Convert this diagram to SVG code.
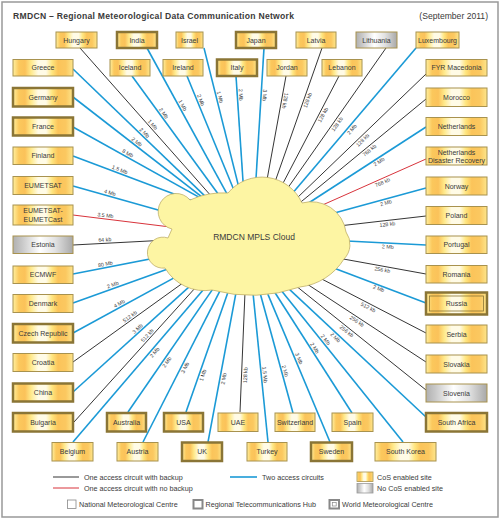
<svg xmlns="http://www.w3.org/2000/svg" width="500" height="519" viewBox="0 0 500 519">
<defs>
<linearGradient id="cos" x1="0" y1="0" x2="1" y2="0">
<stop offset="0" stop-color="#fff0a0"/><stop offset="0.1" stop-color="#fbc85c"/><stop offset="0.2" stop-color="#fbc25a"/><stop offset="0.3" stop-color="#ffe98a"/><stop offset="0.42" stop-color="#fffbe6"/><stop offset="0.55" stop-color="#fffbe6"/><stop offset="0.65" stop-color="#ffe680"/><stop offset="0.75" stop-color="#fbc45a"/><stop offset="0.88" stop-color="#fbc860"/><stop offset="1" stop-color="#fde68c"/>
</linearGradient>
<linearGradient id="nocos" x1="0" y1="0" x2="1" y2="0">
<stop offset="0" stop-color="#b0b0b0"/><stop offset="0.15" stop-color="#c8c8c8"/><stop offset="0.45" stop-color="#ffffff"/><stop offset="0.7" stop-color="#e2e2e2"/><stop offset="1" stop-color="#a8a8a8"/>
</linearGradient>
</defs>
<style>
.t{font-family:"Liberation Sans",Arial,sans-serif;fill:#3a3a3a}
.n{font-size:7px;text-anchor:middle}
.c{fill:url(#cos)}
.g{fill:url(#nocos)}
.nmc{stroke:#a8924e;stroke-width:1}
.rth{stroke:#8a7536;stroke-width:2.5}
.in{fill:none;stroke:#8a7536;stroke-width:0.8}
.bk{stroke:#1e1e1e;stroke-width:0.9;fill:none}
.rd{stroke:#d8333b;stroke-width:1;fill:none}
.bl{stroke:#1b9ad6;stroke-width:1.6;fill:none}
.lb{font-size:5.3px;text-anchor:middle}
.lg{font-size:7.2px}
</style>
<rect x="2" y="2" width="496" height="515" fill="#ffffff" stroke="#999999" stroke-width="1.5"/>
<text class="t" x="13" y="18.5" font-size="8.6" font-weight="bold" fill="#222" textLength="281" lengthAdjust="spacing">RMDCN – Regional Meteorological Data Communication Network</text>
<text class="t" x="488" y="18.5" font-size="8.6" text-anchor="end">(September 2011)</text>

<g id="connectors">
<line class="bl" x1="73" y1="69" x2="214.6" y2="205.3"/>
<line class="bl" x1="73" y1="97" x2="211.5" y2="204.3"/>
<line class="bl" x1="73" y1="127" x2="207.4" y2="201.9"/>
<line class="bl" x1="73" y1="156" x2="201.3" y2="204.2"/>
<line class="bl" x1="73" y1="186" x2="181.2" y2="216.4"/>
<line class="rd" x1="73" y1="215" x2="189.8" y2="229.4"/>
<line class="bk" x1="73" y1="245" x2="187" y2="239"/>
<line class="bl" x1="73" y1="274" x2="174.6" y2="254.2"/>
<line class="bl" x1="73" y1="303" x2="183.8" y2="263.2"/>
<line class="bl" x1="73" y1="333" x2="189.6" y2="269.4"/>
<line class="bk" x1="73" y1="362" x2="196.2" y2="273.4"/>
<line class="bl" x1="73" y1="392" x2="204.8" y2="272.6"/>
<line class="bk" x1="74" y1="422" x2="209.4" y2="272.2"/>
<line class="bl" x1="73" y1="442" x2="217" y2="273.8"/>
<line class="bl" x1="128" y1="412" x2="223.4" y2="273.6"/>
<line class="bl" x1="143" y1="442" x2="229" y2="273.2"/>
<line class="bl" x1="186" y1="412" x2="234.6" y2="273.2"/>
<line class="bl" x1="208" y1="442" x2="239.6" y2="273.4"/>
<line class="bk" x1="240" y1="412" x2="245.8" y2="273"/>
<line class="bl" x1="268" y1="442" x2="251" y2="273.2"/>
<line class="bl" x1="293" y1="413" x2="254.8" y2="273.8"/>
<line class="bl" x1="330" y1="442" x2="259.2" y2="273.6"/>
<line class="bl" x1="352" y1="413" x2="263.2" y2="274.2"/>
<line class="bl" x1="403" y1="442" x2="268.4" y2="274.4"/>
<line class="bl" x1="426" y1="417" x2="273.4" y2="274.4"/>
<line class="bk" x1="426" y1="390" x2="279.4" y2="272.6"/>
<line class="bk" x1="426" y1="362" x2="287.2" y2="271"/>
<line class="bk" x1="426" y1="333" x2="298.2" y2="266.8"/>
<line class="bl" x1="426" y1="303" x2="315.2" y2="261"/>
<line class="bk" x1="426" y1="274" x2="323.4" y2="255.4"/>
<line class="bl" x1="426" y1="245" x2="327" y2="240"/>
<line class="bk" x1="426" y1="216" x2="328.2" y2="227.2"/>
<line class="bl" x1="426" y1="188" x2="318.8" y2="217.2"/>
<line class="rd" x1="426" y1="159" x2="309" y2="211"/>
<line class="bl" x1="426" y1="127" x2="297" y2="210.5"/>
<line class="bk" x1="426" y1="99" x2="292.8" y2="208.6"/>
<line class="bk" x1="426" y1="74" x2="288.4" y2="206.3"/>
<line class="bl" x1="416" y1="48" x2="284.2" y2="203.1"/>
<line class="bk" x1="386" y1="48" x2="280.2" y2="198.8"/>
<line class="bk" x1="339" y1="76" x2="276.5" y2="195.7"/>
<line class="bk" x1="322" y1="48" x2="271" y2="193.3"/>
<line class="bk" x1="286" y1="76" x2="264.8" y2="191.8"/>
<line class="bl" x1="264" y1="48" x2="255.3" y2="190"/>
<line class="bl" x1="236" y1="76" x2="243.8" y2="193"/>
<line class="bl" x1="204" y1="48" x2="240.9" y2="195.6"/>
<line class="bl" x1="187" y1="76" x2="237.6" y2="199"/>
<line class="bl" x1="147" y1="48" x2="231.8" y2="202.6"/>
<line class="bl" x1="132" y1="76" x2="226" y2="204.7"/>
<line class="bk" x1="80" y1="48" x2="220" y2="206"/>

<g class="t lb">
<text transform="translate(142 135.4) rotate(43.9)" y="-1.8">2 Mb</text>
<text transform="translate(134.6 144.7) rotate(37.8)" y="-1.8">2 Mb</text>
<text transform="translate(126 156.5) rotate(29.1)" y="-1.8">8 Mb</text>
<text transform="translate(118.5 173.1) rotate(20.6)" y="-1.8">1.5 Mb</text>
<text transform="translate(109 196.1) rotate(15.7)" y="-1.8">4 Mb</text>
<text transform="translate(105 219) rotate(7.05)" y="-1.8">3.5 Mb</text>
<text transform="translate(105 243.3) rotate(-3)" y="-1.8">64 kb</text>
<text transform="translate(106 267.6) rotate(-11)" y="-1.8">80 Mb</text>
<text transform="translate(114 288.3) rotate(-19.7)" y="-1.8">2 Mb</text>
<text transform="translate(121 306.8) rotate(-28.6)" y="-1.8">4 Mb</text>
<text transform="translate(132 319.5) rotate(-35.7)" y="-1.8">512 kb</text>
<text transform="translate(140 331.3) rotate(-42.2)" y="-1.8">3 Mb</text>
<text transform="translate(150 337.9) rotate(-47.9)" y="-1.8">512 kb</text>
<text transform="translate(150 127) rotate(48.5)" y="-1.8">1 Mb</text>
<text transform="translate(160.8 115.4) rotate(53.8)" y="-1.8">2 Mb</text>
<text transform="translate(179.4 107) rotate(61.25)" y="-1.8">1 Mb</text>
<text transform="translate(197.5 101.5) rotate(67.7)" y="-1.8">2 Mb</text>
<text transform="translate(216.5 98) rotate(76)" y="-1.8">1 Mb</text>
<text transform="translate(237.3 95) rotate(86.2)" y="-1.8">2 Mb</text>
<text transform="translate(261.1 95) rotate(93.5)" y="-1.8">3 Mb</text>
<text transform="translate(281.6 100) rotate(100.4)" y="-1.8">128 kb</text>
<text transform="translate(304 99) rotate(-70.7)" y="5.6">128 kb</text>
<text transform="translate(319.6 113) rotate(-62.4)" y="5.6">128 kb</text>
<text transform="translate(334 122) rotate(-54.9)" y="5.6">128 kb</text>
<text transform="translate(349 127) rotate(-49.7)" y="5.6">2 Mb</text>
<text transform="translate(360 137.4) rotate(-43.9)" y="5.6">128 kb</text>
<text transform="translate(367 147.5) rotate(-39.4)" y="5.6">768 kb</text>
<text transform="translate(377 158.7) rotate(-32.9)" y="5.6">2 Mb</text>
<text transform="translate(381 179) rotate(-23.9)" y="5.6">768 kb</text>
<text transform="translate(385 199.2) rotate(-15.3)" y="5.6">2 Mb</text>
<text transform="translate(387 220.5) rotate(-6.6)" y="5.6">128 kb</text>
<text transform="translate(388 243) rotate(2.9)" y="5.6">2 Mb</text>
<text transform="translate(383 266.2) rotate(10.2)" y="5.6">256 kb</text>
<text transform="translate(380 285) rotate(20.3)" y="5.6">2 Mb</text>
<text transform="translate(370 304) rotate(27.4)" y="5.6">512 kb</text>
<text transform="translate(359 318.1) rotate(33.3)" y="5.6">256 kb</text>
<text transform="translate(349 328.3) rotate(38.7)" y="5.6">256 kb</text>
<text transform="translate(338 334.7) rotate(43.1)" y="5.6">2 Mb</text>
<text transform="translate(322.7 342) rotate(51.3)" y="-1.8">2 Mb</text>
<text transform="translate(311.7 350) rotate(57.4)" y="-1.8">2 Mb</text>
<text transform="translate(295.6 360) rotate(67.2)" y="-1.8">3 Mb</text>
<text transform="translate(281.7 372) rotate(74.6)" y="-1.8">2 Mb</text>
<text transform="translate(261.3 375) rotate(84.3)" y="-1.8">1.5 Mb</text>
<text transform="translate(241.6 375) rotate(-87.6)" y="5.6">128 kb</text>
<text transform="translate(220 378) rotate(-79.4)" y="5.6">2 Mb</text>
<text transform="translate(199.3 374) rotate(-70.7)" y="5.6">1 Mb</text>
<text transform="translate(181.8 366) rotate(-63)" y="5.6">3 Mb</text>
<text transform="translate(163.8 360) rotate(-55.5)" y="5.6">2 Mb</text>
<text transform="translate(151.8 350) rotate(-49.4)" y="5.6">2 Mb</text>
</g>
</g>

<g id="cloud">
<path d="M172,229 A18,18 0 1 1 190,200 A80,80 0 0 1 228,193 A44,44 0 0 1 302,203 A35,35 0 0 1 346,232 A21,21 0 0 1 344,259 A60,60 0 0 1 300,287 A150,150 0 0 1 212,290 A46,46 0 0 1 165,268 A15.5,15.5 0 1 1 168,238 Z" fill="#fdf5a3" stroke="#bfae6a" stroke-width="0.8"/>
<text class="t" x="254" y="240" font-size="8.5" text-anchor="middle">RMDCN MPLS Cloud</text>
</g>

<g id="node-hungary"><rect class="c nmc" x="56" y="32" width="41" height="16"/><text class="t n" x="76.5" y="42.5">Hungary</text></g>
<g id="node-india"><rect class="c rth" x="117" y="32" width="40" height="16"/><text class="t n" x="137" y="42.5">India</text></g>
<g id="node-israel"><rect class="c nmc" x="176" y="32" width="27" height="16"/><text class="t n" x="189.5" y="42.5">Israel</text></g>
<g id="node-japan"><rect class="c rth" x="236" y="32" width="40" height="16"/><text class="t n" x="256" y="42.5">Japan</text></g>
<g id="node-latvia"><rect class="c nmc" x="296" y="32" width="40" height="16"/><text class="t n" x="316" y="42.5">Latvia</text></g>
<g id="node-lithuania"><rect class="g nmc" x="356" y="32" width="41" height="16"/><text class="t n" x="376.5" y="42.5">Lithuania</text></g>
<g id="node-luxembourg"><rect class="c nmc" x="416" y="32" width="43" height="16"/><text class="t n" x="437.5" y="42.5">Luxembourg</text></g>

<g id="node-greece"><rect class="c nmc" x="13" y="59.5" width="60" height="16.5"/><text class="t n" x="43" y="70.2">Greece</text></g>
<g id="node-iceland"><rect class="c nmc" x="110" y="59.5" width="40" height="16.5"/><text class="t n" x="130" y="70.2">Iceland</text></g>
<g id="node-ireland"><rect class="c nmc" x="163" y="59.5" width="40" height="16.5"/><text class="t n" x="183" y="70.2">Ireland</text></g>
<g id="node-italy"><rect class="c rth" x="217" y="59.5" width="40" height="16.5"/><text class="t n" x="237" y="70.2">Italy</text></g>
<g id="node-jordan"><rect class="c nmc" x="267" y="59.5" width="40" height="16.5"/><text class="t n" x="287" y="70.2">Jordan</text></g>
<g id="node-lebanon"><rect class="c nmc" x="322" y="59.5" width="40" height="16.5"/><text class="t n" x="342" y="70.2">Lebanon</text></g>
<g id="node-fyr-macedonia"><rect class="c nmc" x="426" y="59.5" width="61" height="16.5"/><text class="t n" x="456.5" y="70.2">FYR Macedonia</text></g>

<g id="node-germany"><rect class="c rth" x="13" y="88" width="60" height="18.5"/><text class="t n" x="43" y="99.7">Germany</text></g>
<g id="node-france"><rect class="c rth" x="13" y="117.5" width="60" height="18"/><text class="t n" x="43" y="129">France</text></g>
<g id="node-finland"><rect class="c nmc" x="13" y="147" width="60" height="17.5"/><text class="t n" x="43" y="158.2">Finland</text></g>
<g id="node-eumetsat"><rect class="c nmc" x="13" y="176.5" width="60" height="18"/><text class="t n" x="43" y="188">EUMETSAT</text></g>
<g id="node-eumetcast"><rect class="c nmc" x="13" y="205" width="60" height="20"/><text class="t n" x="43" y="213.3">EUMETSAT-</text><text class="t n" x="43" y="221.8">EUMETCast</text></g>
<g id="node-estonia"><rect class="g nmc" x="13" y="236" width="60" height="17.5"/><text class="t n" x="43" y="247.2">Estonia</text></g>
<g id="node-ecmwf"><rect class="c nmc" x="13" y="266" width="60" height="17.5"/><text class="t n" x="43" y="277.2">ECMWF</text></g>
<g id="node-denmark"><rect class="c nmc" x="13" y="294.5" width="60" height="18"/><text class="t n" x="43" y="306">Denmark</text></g>
<g id="node-czech-republic"><rect class="c rth" x="13" y="324" width="60" height="18.5"/><text class="t n" x="43" y="335.7">Czech Republic</text></g>
<g id="node-croatia"><rect class="c nmc" x="13" y="353.5" width="60" height="18"/><text class="t n" x="43" y="365">Croatia</text></g>
<g id="node-china"><rect class="c rth" x="13" y="383.5" width="60" height="18"/><text class="t n" x="43" y="395">China</text></g>
<g id="node-bulgaria"><rect class="c rth" x="13" y="413" width="60" height="18.5"/><text class="t n" x="43" y="424.7">Bulgaria</text></g>

<g id="node-morocco"><rect class="c nmc" x="426" y="88" width="61" height="18.5"/><text class="t n" x="456.5" y="99.7">Morocco</text></g>
<g id="node-netherlands"><rect class="c nmc" x="426" y="117.5" width="61" height="18"/><text class="t n" x="456.5" y="129">Netherlands</text></g>
<g id="node-netherlands-dr"><rect class="c nmc" x="426" y="147" width="61" height="18"/><text class="t n" x="456.5" y="154.6">Netherlands</text><text class="t n" x="456.5" y="162.6">Disaster Recovery</text></g>
<g id="node-norway"><rect class="c nmc" x="426" y="177" width="61" height="18"/><text class="t n" x="456.5" y="188.5">Norway</text></g>
<g id="node-poland"><rect class="c nmc" x="426" y="206.5" width="61" height="18"/><text class="t n" x="456.5" y="218">Poland</text></g>
<g id="node-portugal"><rect class="c nmc" x="426" y="236" width="61" height="17.5"/><text class="t n" x="456.5" y="247.2">Portugal</text></g>
<g id="node-romania"><rect class="c nmc" x="426" y="265.5" width="61" height="17.5"/><text class="t n" x="456.5" y="276.7">Romania</text></g>
<g id="node-russia"><rect class="c rth" x="426" y="292.5" width="61" height="22"/><rect class="in" x="429.5" y="296" width="54" height="15"/><text class="t n" x="456.5" y="306">Russia</text></g>
<g id="node-serbia"><rect class="c nmc" x="426" y="325" width="61" height="18"/><text class="t n" x="456.5" y="336.5">Serbia</text></g>
<g id="node-slovakia"><rect class="c nmc" x="426" y="355" width="61" height="18"/><text class="t n" x="456.5" y="366.5">Slovakia</text></g>
<g id="node-slovenia"><rect class="g nmc" x="426" y="384" width="61" height="18"/><text class="t n" x="456.5" y="395.5">Slovenia</text></g>
<g id="node-south-africa"><rect class="c rth" x="426" y="413" width="61" height="18.5"/><text class="t n" x="456.5" y="424.7">South Africa</text></g>

<g id="node-australia"><rect class="c rth" x="107" y="413" width="39" height="18.5"/><text class="t n" x="126.5" y="424.7">Australia</text></g>
<g id="node-usa"><rect class="c rth" x="164" y="413" width="39" height="18.5"/><text class="t n" x="183.5" y="424.7">USA</text></g>
<g id="node-uae"><rect class="c nmc" x="218" y="413" width="40" height="18.5"/><text class="t n" x="238" y="424.7">UAE</text></g>
<g id="node-switzerland"><rect class="c nmc" x="275" y="413" width="40" height="18.5"/><text class="t n" x="295" y="424.7">Switzerland</text></g>
<g id="node-spain"><rect class="c nmc" x="332" y="413" width="41" height="18.5"/><text class="t n" x="352.5" y="424.7">Spain</text></g>

<g id="node-belgium"><rect class="c nmc" x="52" y="442.5" width="41" height="18.5"/><text class="t n" x="72.5" y="454.2">Belgium</text></g>
<g id="node-austria"><rect class="c nmc" x="117" y="442.5" width="41" height="18.5"/><text class="t n" x="137.5" y="454.2">Austria</text></g>
<g id="node-uk"><rect class="c rth" x="182" y="442.5" width="40" height="18.5"/><text class="t n" x="202" y="454.2">UK</text></g>
<g id="node-turkey"><rect class="c nmc" x="247" y="442.5" width="40" height="18.5"/><text class="t n" x="267" y="454.2">Turkey</text></g>
<g id="node-sweden"><rect class="c rth" x="311" y="442.5" width="41" height="18.5"/><text class="t n" x="331.5" y="454.2">Sweden</text></g>
<g id="node-south-korea"><rect class="c nmc" x="375" y="442.5" width="61" height="18.5"/><text class="t n" x="405.5" y="454.2">South Korea</text></g>

<g id="legend">
<line class="bk" x1="53" y1="477" x2="79" y2="477"/>
<line class="rd" x1="53" y1="488" x2="79" y2="488"/>
<line class="bl" x1="230" y1="477" x2="257" y2="477"/>
<text class="t lg" x="84" y="479.6">One access circuit with backup</text>
<text class="t lg" x="84" y="490.6">One access circuit with no backup</text>
<text class="t lg" x="262" y="479.6">Two access circuits</text>
<rect class="c" x="357" y="472" width="16" height="9.5" stroke="#a8924e" stroke-width="0.8"/>
<rect class="g" x="357" y="483.5" width="16" height="9.5" stroke="#999" stroke-width="0.8"/>
<text class="t lg" x="377" y="479.6">CoS enabled site</text>
<text class="t lg" x="377" y="491">No CoS enabled site</text>
<rect x="67.5" y="500" width="8.5" height="8.5" fill="#fff" stroke="#888" stroke-width="0.8"/>
<text class="t lg" x="79" y="507">National Meteorological Centre</text>
<rect x="193.5" y="500" width="9" height="8.5" fill="#fff" stroke="#888" stroke-width="2"/>
<text class="t lg" x="205.5" y="507">Regional Telecommunications Hub</text>
<rect x="329.5" y="500" width="9.5" height="8.5" fill="#fff" stroke="#888" stroke-width="2"/>
<rect x="332.3" y="502.6" width="3.9" height="3.4" fill="none" stroke="#888" stroke-width="0.7"/>
<text class="t lg" x="342" y="507">World Meteorological Centre</text>
</g>
</svg>
